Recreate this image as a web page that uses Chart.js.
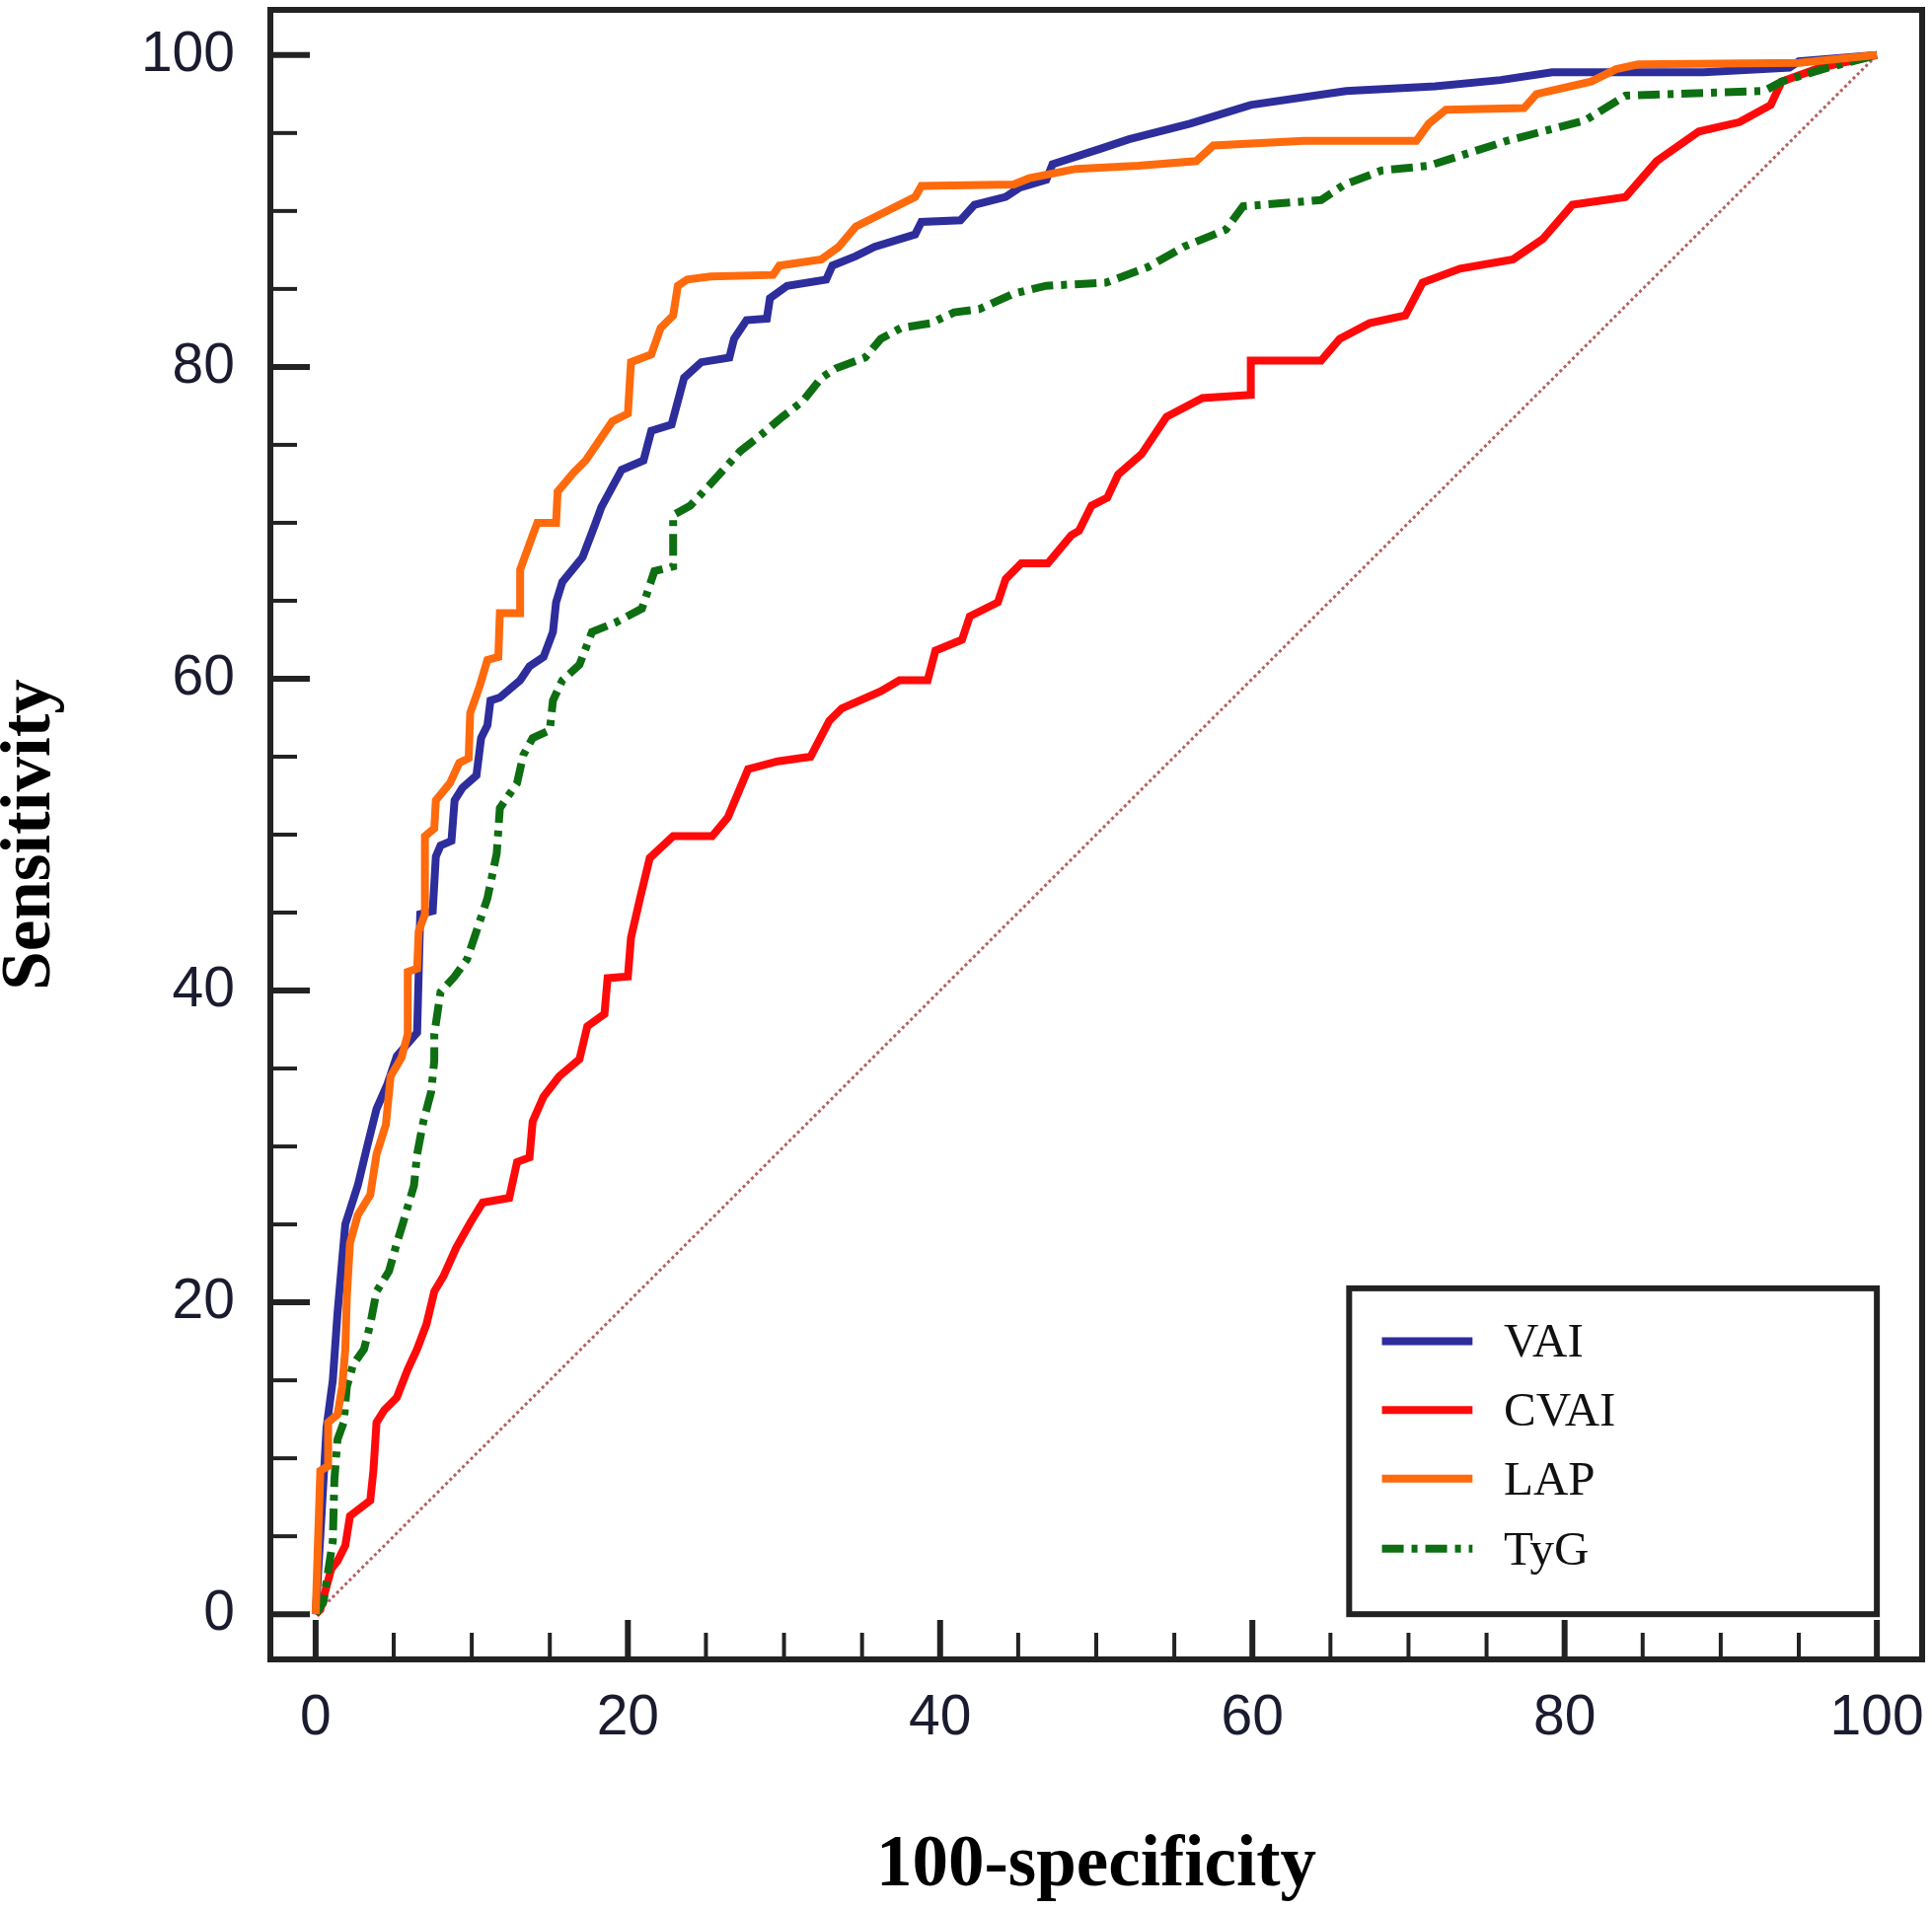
<!DOCTYPE html>
<html>
<head>
<meta charset="utf-8">
<title>ROC curves</title>
<script src="https://cdn.jsdelivr.net/npm/chart.js@4/dist/chart.umd.min.js"></script>
<style>
  html, body { margin: 0; padding: 0; background: #fff; }
  #roc { display: block; }
</style>
</head>
<body>
<canvas id="roc" width="1958" height="1935"></canvas>
<script>
// ROC points (x = 100-specificity, y = sensitivity)
const vaiX = [0, 0.3, 0.7, 1.1, 1.4, 1.9, 2.7, 3.3, 3.9, 4.6, 5.2, 6.5, 6.7, 7.5, 7.7, 8.0, 8.7, 8.9, 9.4, 10.3, 10.6, 11.0, 11.2, 11.8, 13.1, 13.7, 14.6, 15.2, 15.4, 15.8, 17.1, 17.9, 18.3, 19.6, 21.0, 21.5, 22.8, 23.6, 24.7, 26.5, 26.8, 27.6, 28.9, 29.1, 30.2, 32.7, 33.1, 34.6, 35.8, 38.4, 38.8, 41.3, 42.2, 44.2, 45.1, 46.8, 47.2, 50.3, 52.1, 56.0, 59.9, 66.0, 71.7, 75.9, 79.2, 88.9, 94.4, 95.0, 100];
const vaiY = [0, 5.0, 12.0, 15.0, 19.3, 25.0, 27.5, 30.0, 32.4, 34.0, 35.8, 37.3, 44.9, 45.1, 48.6, 49.3, 49.6, 52.2, 53.0, 53.8, 56.2, 57.0, 58.6, 58.8, 59.9, 60.8, 61.4, 63.0, 64.9, 66.2, 67.8, 69.9, 71.0, 73.4, 74.0, 75.9, 76.3, 79.3, 80.3, 80.6, 81.8, 83.0, 83.1, 84.4, 85.2, 85.6, 86.5, 87.1, 87.7, 88.5, 89.3, 89.4, 90.4, 90.9, 91.5, 92.0, 93.0, 94.0, 94.6, 95.6, 96.8, 97.7, 98.0, 98.4, 98.9, 98.9, 99.2, 99.6, 100];

const cvaiX = [0, 0.3, 1.0, 1.4, 1.9, 2.2, 3.5, 3.7, 3.9, 4.4, 5.2, 5.9, 6.5, 7.1, 7.6, 8.2, 9.0, 9.9, 10.7, 12.4, 12.9, 13.7, 13.9, 14.6, 15.6, 16.9, 17.4, 18.5, 18.7, 20.0, 20.2, 20.8, 21.4, 22.9, 25.4, 26.4, 27.7, 29.6, 31.7, 32.9, 33.7, 36.2, 37.4, 39.2, 39.7, 41.4, 41.9, 43.7, 44.2, 45.2, 46.9, 48.4, 48.9, 49.7, 50.7, 51.4, 52.9, 54.5, 56.8, 59.9, 59.9, 64.4, 65.6, 67.5, 69.8, 70.9, 73.3, 76.7, 78.6, 80.5, 83.9, 85.9, 88.6, 91.2, 93.2, 93.9, 96.4, 100];
const cvaiY = [0, 0.3, 2.9, 3.4, 4.4, 6.3, 7.3, 9.2, 12.3, 13.1, 13.9, 15.7, 17.0, 18.6, 20.7, 21.7, 23.5, 25.1, 26.4, 26.7, 29.0, 29.3, 31.6, 33.2, 34.5, 35.6, 37.7, 38.5, 40.8, 40.9, 43.4, 46.0, 48.5, 49.9, 49.9, 51.1, 54.2, 54.7, 55.0, 57.3, 58.1, 59.2, 59.9, 59.9, 61.8, 62.5, 64.0, 64.9, 66.4, 67.4, 67.4, 69.2, 69.5, 71.1, 71.6, 73.1, 74.4, 76.8, 78.0, 78.2, 80.4, 80.4, 81.8, 82.8, 83.3, 85.4, 86.3, 86.9, 88.2, 90.4, 90.9, 93.2, 95.1, 95.7, 96.8, 98.3, 99.2, 100];

const lapX = [0, 0.3, 0.8, 0.8, 1.4, 1.7, 1.9, 2.0, 2.2, 2.7, 3.5, 3.9, 4.5, 4.8, 5.5, 5.9, 5.9, 6.5, 6.6, 7.0, 7.0, 7.6, 7.7, 8.6, 9.2, 9.8, 9.9, 10.5, 11.0, 11.7, 11.8, 13.1, 13.1, 13.9, 14.2, 15.4, 15.5, 16.5, 17.3, 19.0, 20.0, 20.2, 21.5, 22.1, 22.9, 23.2, 23.8, 25.3, 29.3, 29.7, 32.4, 33.5, 34.6, 36.2, 38.4, 38.8, 44.7, 45.7, 48.7, 52.7, 56.4, 57.5, 63.3, 70.5, 71.3, 72.4, 77.4, 78.2, 81.7, 83.3, 84.7, 95.0, 100];
const lapY = [0, 9.2, 9.5, 12.3, 12.8, 14.6, 17.0, 20.4, 23.8, 25.6, 26.9, 29.5, 31.4, 34.5, 35.7, 37.2, 41.2, 41.4, 43.8, 44.9, 49.9, 50.4, 52.2, 53.3, 54.6, 54.9, 57.8, 59.5, 61.2, 61.4, 64.2, 64.2, 67.0, 69.2, 70.0, 70.0, 72.0, 73.2, 74.0, 76.5, 77.0, 80.3, 80.8, 82.5, 83.3, 85.2, 85.6, 85.8, 85.9, 86.5, 86.9, 87.7, 89.0, 89.8, 90.9, 91.6, 91.7, 92.1, 92.7, 92.9, 93.2, 94.2, 94.5, 94.5, 95.6, 96.5, 96.6, 97.5, 98.3, 99.1, 99.4, 99.5, 100];

const tygX = [0, 0.5, 1.1, 1.2, 1.4, 1.8, 2.0, 2.4, 3.1, 3.5, 3.9, 4.7, 5.2, 5.6, 6.3, 6.5, 6.9, 7.4, 7.6, 7.6, 8.0, 8.9, 9.7, 10.2, 11.0, 11.6, 11.8, 12.9, 13.3, 13.9, 15.0, 15.2, 15.8, 16.9, 17.7, 19.2, 20.9, 21.7, 22.9, 22.9, 24.0, 25.4, 27.2, 28.6, 29.9, 31.2, 32.4, 33.3, 35.2, 36.2, 37.5, 39.4, 40.9, 42.5, 44.7, 46.8, 50.6, 53.3, 55.6, 58.3, 59.4, 64.4, 65.9, 68.3, 71.3, 76.3, 78.6, 81.3, 83.9, 92.8, 93.9, 96.9, 100];
const tygY = [0, 0.8, 4.7, 8.6, 11.2, 12.3, 14.6, 16.0, 17.0, 18.6, 20.7, 22.0, 23.8, 25.1, 27.5, 29.5, 31.6, 33.5, 35.5, 37.2, 39.9, 40.9, 42.0, 43.5, 45.9, 48.8, 51.7, 53.3, 55.1, 56.2, 56.7, 58.6, 59.9, 60.9, 63.0, 63.6, 64.5, 66.9, 67.2, 70.5, 71.1, 72.6, 74.6, 75.7, 76.8, 77.8, 79.3, 79.9, 80.6, 81.8, 82.5, 82.8, 83.5, 83.7, 84.7, 85.2, 85.4, 86.4, 87.7, 88.8, 90.3, 90.7, 91.7, 92.6, 92.9, 94.5, 95.1, 95.8, 97.4, 97.7, 98.3, 99.2, 100];

const refX = [0, 100];
const refY = [0, 100];

const tickValues = [0, 5, 10, 15, 20, 25, 30, 35, 40, 45, 50, 55, 60, 65, 70, 75, 80, 85, 90, 95, 100];
const tickLabels = [0, 20, 40, 60, 80, 100];
const legendLabels = ["VAI", "CVAI", "LAP", "TyG"];

const toPoints = (xs, ys) => xs.map((v, i) => ({ x: v, y: ys[i] }));

// frame, inward ticks and the boxed legend
const frameAndTicks = {
  id: "frameAndTicks",
  afterDatasetsDraw(chart) {
    const { ctx, chartArea: a, scales: { x, y } } = chart;
    ctx.save();
    ctx.strokeStyle = "#222";
    ctx.lineCap = "butt";
    tickValues.forEach(v => {
      const major = tickLabels.includes(v);
      const len = major ? 40 : 27;
      ctx.lineWidth = major ? 6 : 4;
      const py = y.getPixelForValue(v);
      ctx.beginPath();
      ctx.moveTo(a.left, py);
      ctx.lineTo(a.left + len, py);
      ctx.stroke();
      const px = x.getPixelForValue(v);
      ctx.beginPath();
      ctx.moveTo(px, a.bottom);
      ctx.lineTo(px, a.bottom - len);
      ctx.stroke();
    });
    ctx.lineWidth = 6;
    ctx.strokeRect(a.left, a.top, a.right - a.left, a.bottom - a.top);

    // legend box
    const bl = x.getPixelForValue(66.2), br = x.getPixelForValue(100);
    const bt = y.getPixelForValue(20.9), bb = y.getPixelForValue(0);
    ctx.fillStyle = "#fff";
    ctx.fillRect(bl, bt, br - bl, bb - bt);
    ctx.lineWidth = 6;
    ctx.strokeRect(bl, bt, br - bl, bb - bt);

    const rows = [17.5, 13.1, 8.7, 4.2];
    const lx0 = x.getPixelForValue(68.3), lx1 = x.getPixelForValue(74.1);
    const tx = x.getPixelForValue(76.1);
    ctx.font = '49px "Liberation Serif", serif';
    ctx.textBaseline = "middle";
    legendLabels.forEach((lab, i) => {
      const ds = chart.data.datasets.find(d => d.label === lab);
      const ry = y.getPixelForValue(rows[i]);
      ctx.strokeStyle = ds.borderColor;
      ctx.lineWidth = 8;
      ctx.setLineDash(ds.borderDash || []);
      ctx.beginPath();
      ctx.moveTo(lx0, ry);
      ctx.lineTo(lx1, ry);
      ctx.stroke();
      ctx.setLineDash([]);
      ctx.fillStyle = "#111";
      ctx.fillText(lab, tx, ry + 3);
    });
    ctx.restore();
  }
};

const lineStyle = { borderWidth: 8, pointRadius: 0, tension: 0, fill: false };

new Chart(document.getElementById("roc"), {
  type: "line",
  data: {
    datasets: [
      { ...lineStyle, label: "LAP", data: toPoints(lapX, lapY), borderColor: "#ff6a0d", order: 0 },
      { ...lineStyle, label: "TyG", data: toPoints(tygX, tygY), borderColor: "#0e6e12", borderDash: [22, 8, 6, 8], order: 1 },
      { ...lineStyle, label: "VAI", data: toPoints(vaiX, vaiY), borderColor: "#2d2d9c", order: 2 },
      { ...lineStyle, label: "CVAI", data: toPoints(cvaiX, cvaiY), borderColor: "#ff0a0a", order: 3 },
      { ...lineStyle, label: "ref", data: toPoints(refX, refY), borderColor: "rgba(170,80,80,0.9)", borderWidth: 3, borderDash: [3, 3], order: 4 }
    ]
  },
  options: {
    responsive: false,
    devicePixelRatio: 1,
    animation: false,
    layout: { padding: { top: 10, right: 10, left: 0, bottom: 0 } },
    plugins: {
      legend: { display: false },
      tooltip: { enabled: false }
    },
    scales: {
      x: {
        type: "linear",
        min: -2.9,
        max: 102.9,
        afterBuildTicks: s => { s.ticks = tickValues.map(v => ({ value: v })); },
        afterFit: s => { s.height = 253; s.paddingLeft = 0; s.paddingRight = 0; },
        grid: { display: false },
        border: { display: false },
        ticks: {
          autoSkip: false,
          maxRotation: 0,
          padding: 18,
          color: "#1b1b30",
          font: { family: '"Liberation Sans", Arial, sans-serif', size: 57 },
          callback: v => (tickLabels.includes(v) ? String(v) : "")
        },
        title: {
          display: true,
          text: "100-specificity",
          color: "#000",
          font: { family: '"Liberation Serif", serif', size: 73, weight: "bold", lineHeight: 1 },
          padding: { top: 0, bottom: 6 }
        }
      },
      y: {
        type: "linear",
        min: -2.9,
        max: 102.9,
        afterBuildTicks: s => { s.ticks = tickValues.map(v => ({ value: v })); },
        afterFit: s => { s.width = 274; s.paddingTop = 0; s.paddingBottom = 0; },
        grid: { display: false },
        border: { display: false },
        ticks: {
          autoSkip: false,
          padding: 28,
          color: "#1b1b30",
          font: { family: '"Liberation Sans", Arial, sans-serif', size: 57 },
          callback: v => (tickLabels.includes(v) ? String(v) : "")
        },
        title: {
          display: true,
          text: "Sensitivity",
          color: "#000",
          font: { family: '"Liberation Serif", serif', size: 71, weight: "bold", lineHeight: 0.9 },
          padding: { top: 0, bottom: 0 }
        }
      }
    }
  },
  plugins: [frameAndTicks]
});
</script>
</body>
</html>
